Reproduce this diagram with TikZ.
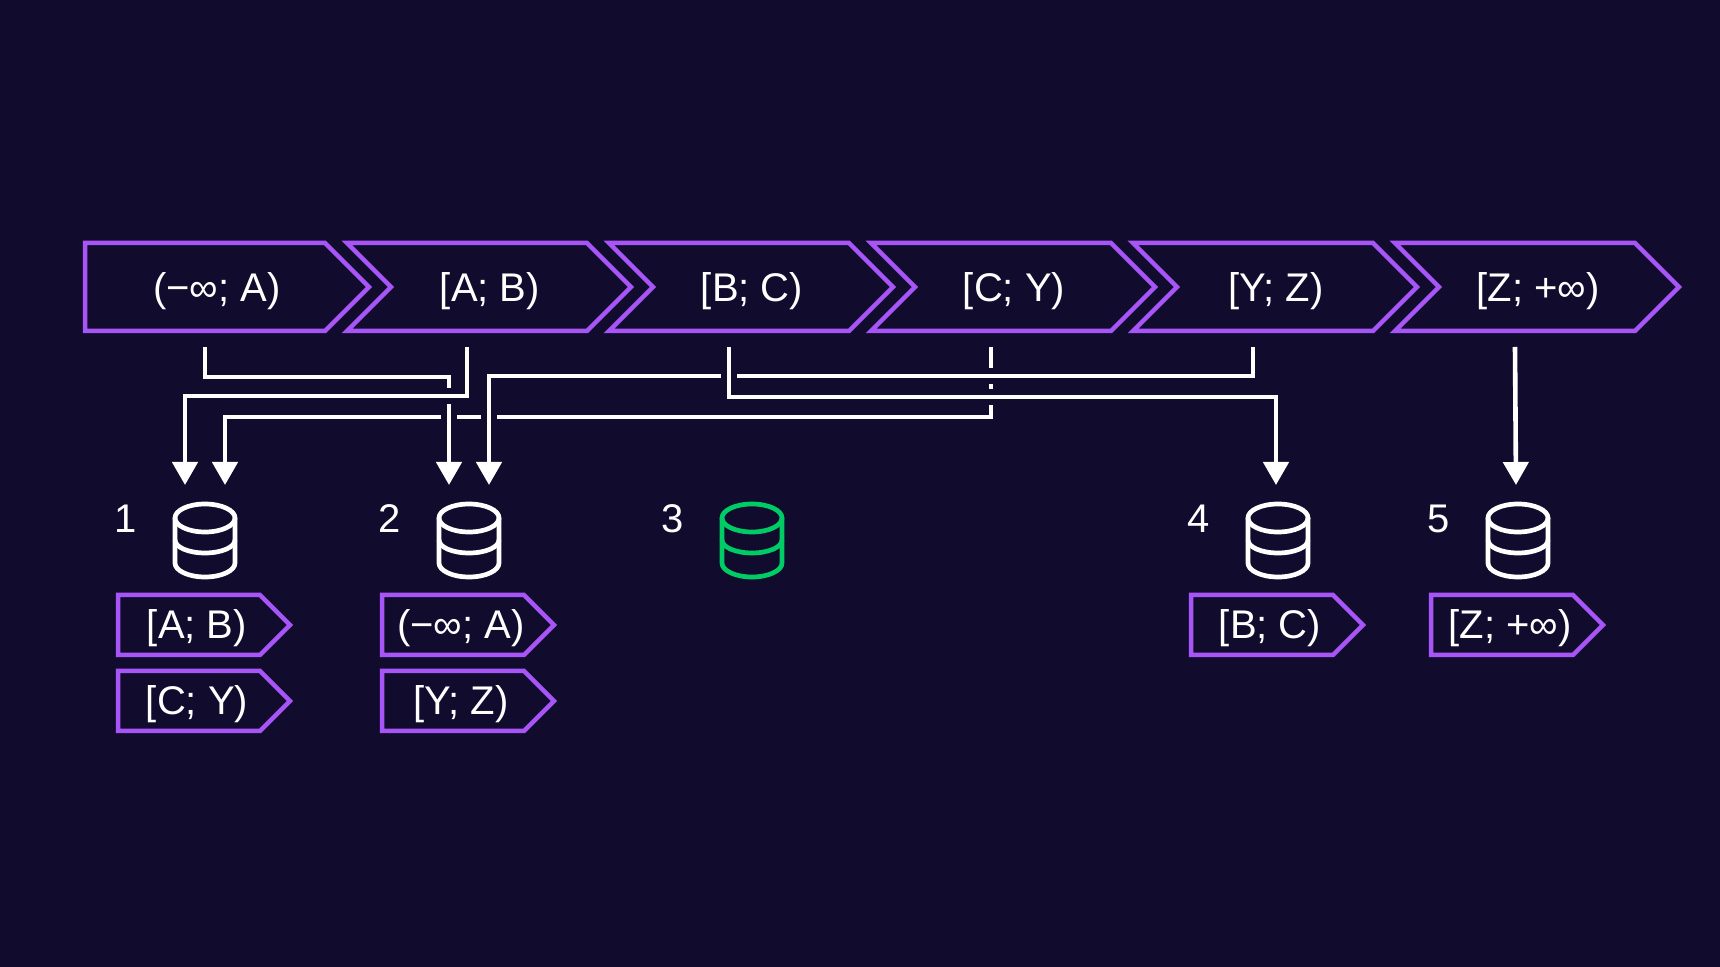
\documentclass[tikz,border=0pt]{standalone}
\usepackage{fontspec}
\setmainfont{Liberation Sans}
\usetikzlibrary{arrows.meta}
\definecolor{bgnavy}{HTML}{110C2E}
\definecolor{rangepurple}{RGB}{168,85,247}
\definecolor{dbgreen}{RGB}{0,204,102}

\begin{document}
\begin{tikzpicture}[x=0.5pt,y=-0.5pt,
    font=\fontsize{20}{24}\selectfont,
    rangebox/.style={draw=rangepurple,line width=2.25pt},
    rangetext/.style={text=white,inner sep=0pt},
    link/.style={draw=white,line width=2.3pt,-{Triangle[width=12.5pt,length=11.5pt]},
        preaction={draw=bgnavy,line width=8pt,-}},
    dbase/.pic={
        \draw[line width=2.35pt,#1] (0,-22) ellipse [x radius=30,y radius=14];
        \draw[line width=2.35pt,#1] (-30,-22) -- (-30,23)
            arc[start angle=180,end angle=0,x radius=30,y radius=14] -- (30,-22);
        \draw[line width=2.35pt,#1] (-30,0) arc[start angle=180,end angle=0,x radius=30,y radius=13];
        \coordinate (-inl) at (-20,-55);
        \coordinate (-inr) at (20,-55);
        \coordinate (-in) at (-2,-55);
    }]
    \fill[bgnavy] (0,0) rectangle (1720,967);

    % key ranges
    \draw[rangebox] (85,243) -- (325,243) -- (369,287) -- (325,331) -- (85,331) -- cycle;
    \node[rangetext] (r1) at (217,291) {(−∞; A)};
    \foreach \t [count=\n from 2] in {{[A; B)},{[B; C)},{[C; Y)},{[Y; Z)},{[Z; +∞)}}{
        \draw[rangebox,shift={({262*(\n-1)},0)}] (85,243) -- (325,243) -- (369,287)
            -- (325,331) -- (85,331) -- (129,287) -- cycle;
        \node[rangetext] (r\n) at ({228+262*(\n-1)},291) {\t};
    }
    \foreach \n in {1,...,6}
        \coordinate (s\n) at ({205+262*(\n-1)},347);

    % shards
    \pic (db1) at (205,540) {dbase=white};
    \pic (db2) at (469,540) {dbase=white};
    \pic (db3) at (752,540) {dbase=dbgreen};
    \pic (db4) at (1278,540) {dbase=white};
    \pic (db5) at (1518,540) {dbase=white};
    \foreach \x [count=\n] in {205,469,752,1278,1518}
        \node[rangetext] (num\n) at ({\x-79},519) {\n};

    \foreach \x/\y/\t [count=\n] in {118/595/{[A; B)},118/671/{[C; Y)},382/595/{(−∞; A)},
            382/671/{[Y; Z)},1191/595/{[B; C)},1431/595/{[Z; +∞)}}{
        \draw[rangebox,shift={(\x,\y)}] (0,0) -- (142,0) -- (172,30) -- (142,60) -- (0,60) -- cycle;
        \node[rangetext] (t\n) at ({\x+79},{\y+33}) {\t};
    }

    % moves
    \draw[link] (s4) -- ++(0,70) -| (db1-inr);
    \draw[link] (s1) -- ++(0,30) -| (db2-inl);
    \draw[link] (s5) -- ++(0,29) -| (db2-inr);
    \draw[link] (s2) -- ++(0,49) -| (db1-inl);
    \draw[link] (s3) -- ++(0,50) -| (db4-in);
    \draw[link] (s6) -- (db5-in);
\end{tikzpicture}
\end{document}
